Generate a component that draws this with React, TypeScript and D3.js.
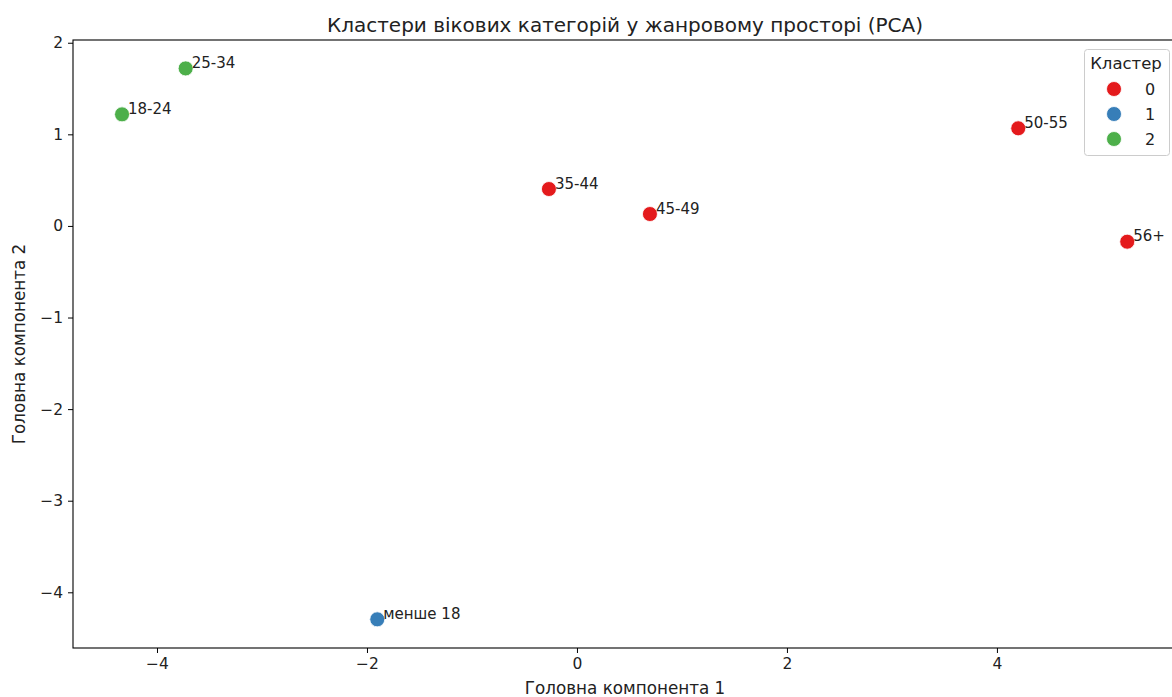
import React, { useEffect, useRef } from "react";
import * as d3 from "d3";

const labels = ["менше 18", "18-24", "25-34", "35-44", "45-49", "50-55", "56+"];
const pc1 = [-1.902, -4.333, -3.727, -0.267, 0.695, 4.203, 5.241];
const pc2 = [-4.295, 1.218, 1.72, 0.403, 0.13, 1.066, -0.172];
const clusters = [1, 2, 2, 0, 0, 0, 0];
const clusterIds = [0, 1, 2];
const clusterColors = ["#e41a1c", "#377eb8", "#4daf4a"];
const xTicks = [-4, -2, 0, 2, 4];
const yTicks = [2, 1, 0, -1, -2, -3, -4];

const W = 1172, H = 697;
const M = { left: 73, right: 1177, top: 40, bottom: 648 };
const FONT = "DejaVu Sans";

export default function App() {
  const ref = useRef<SVGSVGElement>(null);
  useEffect(() => {
    document.body.style.margin = "0";
    const svg = d3.select(ref.current);
    svg.selectAll("*").remove();
    const x = d3.scaleLinear().domain([-4.8, 5.715]).range([M.left, M.right]);
    const y = d3.scaleLinear().domain([-4.608, 2.03]).range([M.bottom, M.top]);
    const color = d3.scaleOrdinal<number, string>().domain(clusterIds).range(clusterColors);

    // spines
    svg.append("rect").attr("x", M.left).attr("y", M.top)
      .attr("width", M.right - M.left).attr("height", M.bottom - M.top)
      .attr("fill", "none").attr("stroke", "#000").attr("stroke-width", 1.1);

    const xa = svg.append("g").attr("transform", `translate(0,${M.bottom})`)
      .call(d3.axisBottom(x).tickValues(xTicks).tickSize(5).tickPadding(5)
        .tickFormat((d) => d3.format("d")(d as number).replace("-", "−")));
    xa.select(".domain").remove();
    xa.selectAll("text").attr("font-family", FONT).attr("font-size", 15.5).attr("fill", "#222");
    xa.selectAll("line").attr("stroke", "#000");

    const ya = svg.append("g").attr("transform", `translate(${M.left},0)`)
      .call(d3.axisLeft(y).tickValues(yTicks).tickSize(5).tickPadding(5)
        .tickFormat((d) => d3.format("d")(d as number).replace("-", "−")));
    ya.select(".domain").remove();
    ya.selectAll("text").attr("font-family", FONT).attr("font-size", 15.5).attr("fill", "#222");
    ya.selectAll("line").attr("stroke", "#000");

    // points
    const idx = d3.range(labels.length);
    svg.append("g").selectAll("circle").data(idx).join("circle")
      .attr("cx", (i) => x(pc1[i])).attr("cy", (i) => y(pc2[i])).attr("r", 7.5)
      .attr("fill", (i) => color(clusters[i])).attr("stroke", "#fff").attr("stroke-width", 0.8);
    svg.append("g").selectAll("text").data(idx).join("text")
      .attr("x", (i) => x(pc1[i]) + 6).attr("y", (i) => y(pc2[i]) - 0.5)
      .attr("font-family", FONT).attr("font-size", 15).attr("fill", "#222")
      .text((i) => labels[i]);

    // title & axis labels
    svg.append("text").attr("x", (M.left + M.right) / 2).attr("y", 32).attr("text-anchor", "middle")
      .attr("font-family", FONT).attr("font-size", 20).attr("fill", "#222")
      .text("Кластери вікових категорій у жанровому просторі (PCA)");
    svg.append("text").attr("x", (M.left + M.right) / 2).attr("y", 694).attr("text-anchor", "middle")
      .attr("font-family", FONT).attr("font-size", 16.8).attr("fill", "#222").text("Головна компонента 1");
    svg.append("text").attr("transform", `translate(25,${(M.top + M.bottom) / 2}) rotate(-90)`)
      .attr("text-anchor", "middle").attr("font-family", FONT).attr("font-size", 16.8).attr("fill", "#222")
      .text("Головна компонента 2");

    // legend
    const lg = svg.append("g");
    lg.append("rect").attr("x", 1084.5).attr("y", 49.5).attr("width", 85).attr("height", 106).attr("rx", 3)
      .attr("fill", "#fff").attr("fill-opacity", 0.8).attr("stroke", "#ccc");
    lg.append("text").attr("x", 1126).attr("y", 69).attr("text-anchor", "middle")
      .attr("font-family", FONT).attr("font-size", 16.5).attr("fill", "#222").text("Кластер");
    clusterIds.forEach((c, k) => {
      const cy = 89 + k * 25;
      lg.append("circle").attr("cx", 1114).attr("cy", cy).attr("r", 7.5).attr("fill", color(c))
        .attr("stroke", "#fff").attr("stroke-width", 0.8);
      lg.append("text").attr("x", 1145).attr("y", cy + 6).attr("font-family", FONT).attr("font-size", 16)
        .attr("fill", "#222").text(String(c));
    });
  }, []);
  return <svg ref={ref} width={W} height={H} style={{ display: "block", background: "#fff" }} />;
}
